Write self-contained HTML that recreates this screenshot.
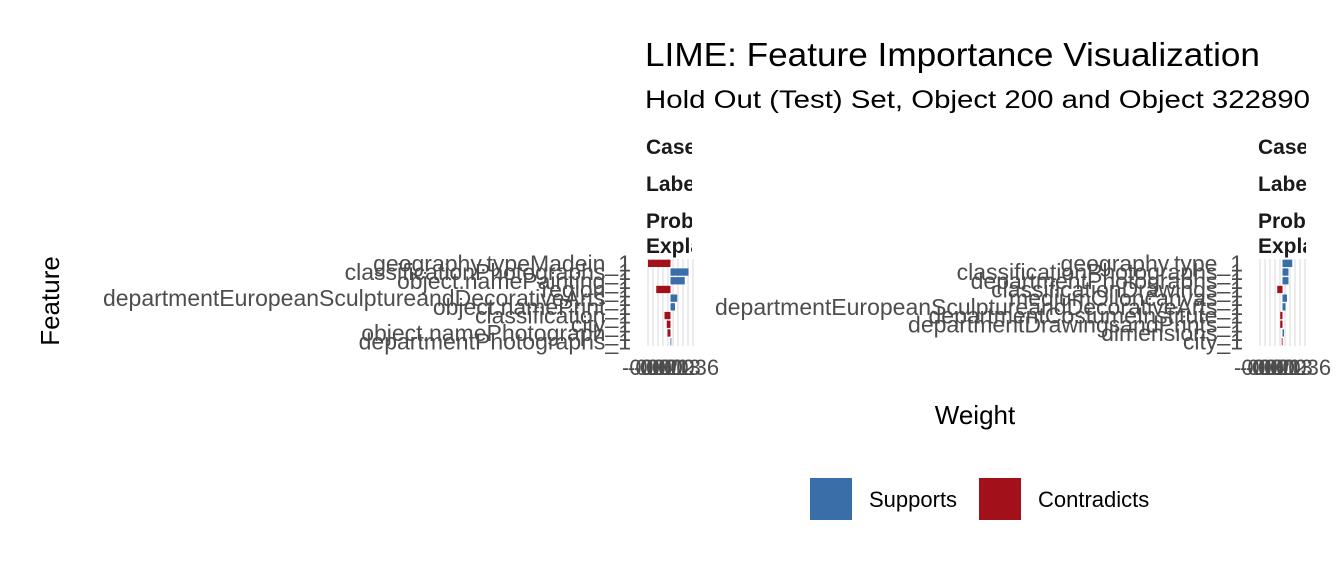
<!DOCTYPE html>
<html><head><meta charset="utf-8"><style>
body{margin:0;background:#fff;width:1344px;height:576px;overflow:hidden}
svg text{font-family:"Liberation Sans",Arial,sans-serif}
</style></head><body>
<svg id="chart" width="1344" height="576">
<defs>
<clipPath id="c1"><rect x="640" y="120" width="52" height="140"/></clipPath>
<clipPath id="c2"><rect x="1252" y="120" width="54" height="140"/></clipPath>
</defs>
<text x="645" y="66" font-size="33" textLength="615" lengthAdjust="spacingAndGlyphs" fill="#000">LIME: Feature Importance Visualization</text>
<text x="645" y="108" font-size="25" textLength="665" lengthAdjust="spacingAndGlyphs" fill="#000">Hold Out (Test) Set, Object 200 and Object 322890</text>
<g clip-path="url(#c1)" font-size="21" font-weight="bold" fill="#1a1a1a">
<text x="646" y="154">Case</text><text x="646" y="191">Label</text><text x="646" y="228">Probability</text><text x="646" y="253">Explanation</text></g>
<g clip-path="url(#c2)" font-size="21" font-weight="bold" fill="#1a1a1a">
<text x="1258" y="154">Case</text><text x="1258" y="191">Label</text><text x="1258" y="228">Probability</text><text x="1258" y="253">Explanation</text></g>
<g id="p1"></g>
<g id="p2"></g>
<text transform="translate(59,301) rotate(-90)" text-anchor="middle" font-size="26">Feature</text>
<text x="975" y="424" text-anchor="middle" font-size="26">Weight</text>
<rect x="810" y="478" width="42" height="42" fill="#3a6ea8"/>
<text x="869" y="507" font-size="22">Supports</text>
<rect x="979" y="478" width="42" height="42" fill="#a2111a"/>
<text x="1038" y="507" font-size="22">Contradicts</text>
</svg>
<script>
const labels1=["geography.typeMadein_1","classificationPhotographs_1","object.namePainting_1","region_1","departmentEuropeanSculptureandDecorativeArts_1","object.namePrint_1","classification_1","city_1","object.namePhotograph_1","departmentPhotographs_1"];
const weights1=[-0.030,0.024,0.019,-0.019,0.009,0.006,-0.008,-0.005,-0.004,0.001];
const labels2=["geography.type_1","classificationPhotographs_1","departmentPhotographs_1","classificationDrawings_1","mediumOiloncanvas_1","departmentEuropeanSculptureandDecorativeArts_1","departmentCostumeInstitute_1","departmentDrawingsandPrints_1","dimensions_1","city_1"];
const weights2=[0.013,0.008,0.008,-0.007,0.006,0.004,-0.003,-0.003,0.002,-0.001];
const ticks=["-0.03","-0.02","-0.01","0.00","0.01","0.02","0.03","0.036"];
const NS="http://www.w3.org/2000/svg";
function mk(t,a,p){const e=document.createElementNS(NS,t);for(const k in a)e.setAttribute(k,a[k]);p.appendChild(e);return e;}
function panel(g,labels,weights,x0,x1,labRight,scaleMin,scaleMax){
  const xs=v=>x0+(v-scaleMin)/(scaleMax-scaleMin)*(x1-x0);
  const top=259,bot=346,n=labels.length,step=(bot-top)/n;
  for(let x=x0;x<=x1;x+=5){const l=mk('line',{x1:x,x2:x,y1:top,y2:bot,stroke:'#e5e5e5','stroke-width':1.5},g);
    }
  labels.forEach((lb,i)=>{
    const yc=top+step*(i+0.5);
    const t=mk('text',{x:labRight,y:yc+8,'text-anchor':'end','font-size':23,fill:'#4d4d4d'},g);t.textContent=lb;
    
    const w=weights[i],a=xs(Math.min(0,w)),b=xs(Math.max(0,w));
    const r=mk('rect',{x:a,y:yc-step*0.42,width:Math.max(b-a,0.8),height:step*0.84,fill:w>=0?'#3a6ea8':'#a2111a'},g);
    
  });
  ticks.forEach((tk,i)=>{const t=mk('text',{x:x0-26+i*6,y:375,'font-size':22,fill:'#4d4d4d'},g);t.textContent=tk;
    });
}
panel(document.getElementById('p1'),labels1,weights1,648,693,631,-0.03,0.03);
panel(document.getElementById('p2'),labels2,weights2,1260,1305,1243,-0.03,0.03);
</script>
</body></html>
